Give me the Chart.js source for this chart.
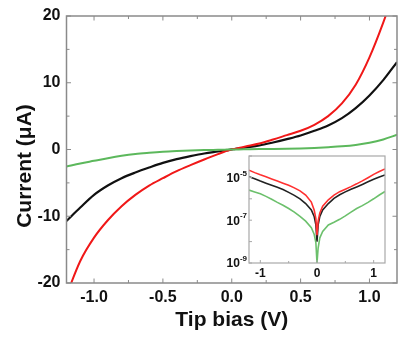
<!DOCTYPE html>
<html>
<head>
<meta charset="utf-8">
<script src="https://cdn.jsdelivr.net/npm/chart.js@4.4.1/dist/chart.umd.min.js"></script>
<style>
  html, body { margin: 0; padding: 0; background: #fff; }
  #wrap { position: relative; width: 398px; height: 337px; }
  #main { position: absolute; left: 0; top: 0; }
  #inset { position: absolute; left: 200px; top: 148px; }
</style>
</head>
<body>
<div id="wrap">
  <canvas id="main" width="398" height="337"></canvas>
  <canvas id="inset" width="190" height="135"></canvas>
</div>
<script>
// tip bias (V)
const biasV = [-1.2, -1.1, -1.0, -0.9, -0.8, -0.7, -0.6, -0.5, -0.4, -0.3, -0.2, -0.1, -0.05, -0.02, 0,
  0.02, 0.05, 0.1, 0.2, 0.3, 0.4, 0.5, 0.6, 0.7, 0.8, 0.9, 1.0, 1.1, 1.2];
// current (uA)
const redI = [-21.8, -16.7, -13.2, -10.6, -8.5, -6.8, -5.4, -4.3, -3.25, -2.35, -1.5, -0.7, -0.3, -0.12, 0.02,
  0.09, 0.22, 0.45, 0.9, 1.5, 2.15, 2.8, 3.7, 5.0, 6.9, 9.7, 13.8, 19.0, 25.0];
const blackI = [-10.7, -8.7, -6.8, -5.4, -4.3, -3.45, -2.7, -2.0, -1.45, -1.0, -0.6, -0.3, -0.15, -0.06, 0.01,
  0.06, 0.15, 0.3, 0.6, 1.05, 1.55, 2.1, 2.8, 3.6, 4.7, 6.2, 8.1, 10.4, 13.1];
const greenI = [-2.55, -2.1, -1.7, -1.3, -0.95, -0.68, -0.5, -0.35, -0.24, -0.15, -0.09, -0.045, -0.022, -0.009, 0.001,
  0.005, 0.015, 0.03, 0.06, 0.08, 0.11, 0.16, 0.24, 0.35, 0.48, 0.68, 1.0, 1.5, 2.2];

const xMajor = [-1.0, -0.5, 0.0, 0.5, 1.0];
const xMinor = [-0.75, -0.25, 0.25, 0.75];
const yMajor = [-20, -10, 0, 10, 20];
const yMinor = [-15, -5, 5, 15];

const insetXMajor = [-1, 0, 1];
const insetXMinor = [-0.5, 0.5];
const insetYLabels = [1e-9, 1e-7, 1e-5];
const insetYTicks = [1e-9, 1e-8, 1e-7, 1e-6, 1e-5, 1e-4];

const FONT = "'Liberation Sans', Arial, sans-serif";

function pts(arr) {
  return biasV.map((v, i) => ({ x: v, y: arr[i] }));
}
function absPts(arr) {
  // uA -> A, magnitude for the log inset
  return biasV.map((v, i) => ({ x: v, y: Math.abs(arr[i]) * 1e-6 }));
}

// frame + inward ticks
function frameTicks(chart, xs, ys, opts) {
  const ctx = chart.ctx;
  const a = chart.chartArea;
  const sx = chart.scales.x, sy = chart.scales.y;
  ctx.save();
  ctx.strokeStyle = opts.color;
  ctx.lineWidth = opts.width;
  ctx.strokeRect(a.left, a.top, a.right - a.left, a.bottom - a.top);
  ctx.lineWidth = 1;
  ctx.beginPath();
  xs.forEach(t => {
    const px = sx.getPixelForValue(t.v);
    ctx.moveTo(px, a.bottom); ctx.lineTo(px, a.bottom - t.len);
    if (opts.all) { ctx.moveTo(px, a.top); ctx.lineTo(px, a.top + t.len); }
  });
  ys.forEach(t => {
    const py = sy.getPixelForValue(t.v);
    ctx.moveTo(a.left, py); ctx.lineTo(a.left + t.len, py);
    if (opts.all) { ctx.moveTo(a.right, py); ctx.lineTo(a.right - t.len, py); }
  });
  ctx.stroke();
  ctx.restore();
}

new Chart(document.getElementById('main'), {
  type: 'line',
  data: {
    datasets: [
      { data: pts(greenI), borderColor: '#5cb85c', borderWidth: 2 },
      { data: pts(redI), borderColor: '#f01818', borderWidth: 2 },
      { data: pts(blackI), borderColor: '#111111', borderWidth: 2.2 }
    ]
  },
  options: {
    responsive: false,
    animation: false,
    devicePixelRatio: 1,
    elements: { point: { radius: 0 }, line: { cubicInterpolationMode: 'monotone' } },
    layout: { padding: { top: 16, right: 1, left: 0, bottom: 0 } },
    plugins: { legend: { display: false }, tooltip: { enabled: false } },
    scales: {
      x: {
        type: 'linear', min: -1.2, max: 1.2,
        grid: { display: false, drawTicks: false }, border: { display: false },
        afterBuildTicks: s => { s.ticks = xMajor.map(v => ({ value: v })); },
        afterFit: s => { s.height = 54; },
        ticks: { padding: 5, color: '#111', font: { family: FONT, size: 16, weight: 'bold' },
          callback: v => v.toFixed(1) },
        title: { display: true, text: 'Tip bias (V)', color: '#111',
          font: { family: FONT, size: 21, weight: 'bold' }, padding: { top: 1, bottom: 4 } }
      },
      y: {
        type: 'linear', min: -20, max: 20,
        grid: { display: false, drawTicks: false }, border: { display: false },
        afterBuildTicks: s => { s.ticks = yMajor.map(v => ({ value: v })); },
        afterFit: s => { s.width = 66.5; },
        ticks: { padding: 6, color: '#111', font: { family: FONT, size: 16, weight: 'bold' } }
      }
    }
  },
  plugins: [{
    id: 'decor',
    afterDraw(chart) {
      const xs = xMajor.map(v => ({ v, len: 4.5 })).concat(xMinor.map(v => ({ v, len: 3 })));
      const ys = yMajor.map(v => ({ v, len: 4.5 })).concat(yMinor.map(v => ({ v, len: 3 })));
      frameTicks(chart, xs, ys, { color: '#8a8a8a', width: 1.5, all: true });
      const ctx = chart.ctx;
      ctx.save();
      ctx.translate(25, 166);
      ctx.rotate(-Math.PI / 2);
      ctx.font = 'bold 21px ' + FONT;
      ctx.fillStyle = '#111';
      ctx.textAlign = 'center';
      ctx.textBaseline = 'middle';
      ctx.fillText('Current (\u03BCA)', 0, 0);
      ctx.restore();
    }
  }]
});

new Chart(document.getElementById('inset'), {
  type: 'line',
  data: {
    datasets: [
      { data: absPts(greenI), borderColor: '#6cc06c', borderWidth: 1.6 },
      { data: absPts(redI), borderColor: '#ff3030', borderWidth: 1.6 },
      { data: absPts(blackI), borderColor: '#222222', borderWidth: 1.6 }
    ]
  },
  options: {
    responsive: false,
    animation: false,
    devicePixelRatio: 1,
    elements: { point: { radius: 0 }, line: { tension: 0 } },
    layout: { padding: { top: 8, right: 5, left: 0, bottom: 0 } },
    plugins: { legend: { display: false }, tooltip: { enabled: false } },
    scales: {
      x: {
        type: 'linear', min: -1.2, max: 1.2,
        grid: { display: false, drawTicks: false }, border: { display: false },
        afterBuildTicks: s => { s.ticks = insetXMajor.map(v => ({ value: v })); },
        afterFit: s => { s.height = 20; },
        ticks: { padding: 3, color: '#111', font: { family: FONT, size: 12, weight: 'bold' },
          callback: v => String(v) }
      },
      y: {
        type: 'logarithmic', min: 1e-9, max: 1e-4,
        grid: { display: false, drawTicks: false }, border: { display: false },
        afterBuildTicks: s => { s.ticks = insetYLabels.map(v => ({ value: v })); },
        afterFit: s => { s.width = 49; },
        ticks: { display: false }
      }
    }
  },
  plugins: [{
    id: 'insetBg',
    beforeDatasetsDraw(chart) {
      const a = chart.chartArea, ctx = chart.ctx;
      ctx.save();
      ctx.fillStyle = '#fff';
      ctx.fillRect(a.left, a.top, a.right - a.left, a.bottom - a.top);
      ctx.restore();
    },
    afterDraw(chart) {
      const xs = insetXMajor.map(v => ({ v, len: 3 })).concat(insetXMinor.map(v => ({ v, len: 2 })));
      const ys = insetYTicks.map(v => ({ v, len: 3 }));
      frameTicks(chart, xs, ys, { color: '#a8a8a8', width: 1.2, all: false });
      // log labels 10^n
      const ctx = chart.ctx, sy = chart.scales.y, a = chart.chartArea;
      ctx.save();
      ctx.fillStyle = '#111';
      ctx.textBaseline = 'middle';
      insetYLabels.forEach(v => {
        const py = sy.getPixelForValue(v);
        const exp = String(Math.round(Math.log10(v)));
        ctx.font = 'bold 8px ' + FONT;
        const ew = ctx.measureText(exp).width;
        const right = a.left - 2;
        ctx.textAlign = 'right';
        ctx.fillText(exp, right, py - 4);
        ctx.font = 'bold 12px ' + FONT;
        ctx.fillText('10', right - ew, py + 1);
      });
      ctx.restore();
    }
  }]
});
</script>
</body>
</html>
